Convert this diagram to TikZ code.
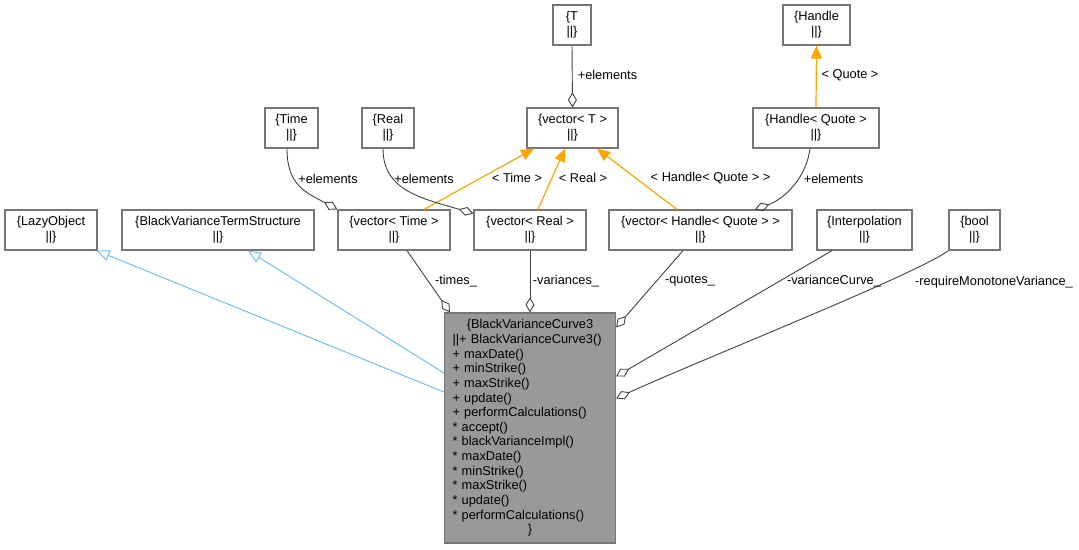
\documentclass[tikz,border=0pt]{standalone}
\usepackage{fontspec}
\setmainfont{Liberation Sans}
\usetikzlibrary{arrows.meta}

\definecolor{boxgray}{HTML}{767676}
\definecolor{agggray}{HTML}{404040}
\definecolor{tplorange}{HTML}{FFA500}
\definecolor{inhblue}{HTML}{63B8FF}
\definecolor{mainfill}{HTML}{999999}

\begin{document}
\begin{tikzpicture}[x=1pt, y=-1pt,
    cls/.style={draw=boxgray, fill=white, line width=1.2pt, minimum height=40pt, inner sep=0pt,
        align=center, font=\fontsize{12.8}{14.65}\selectfont},
    lbl/.style={font=\fontsize{12.8}{14.65}\selectfont, inner sep=0pt},
    agg/.style={draw=agggray, line width=0.9pt, -{Diamond[open, length=15pt, width=9pt]}},
    tpl/.style={draw=tplorange, line width=1.2pt, -{Triangle[length=13pt, width=11pt]}},
    inh/.style={draw=inhblue, line width=0.9pt, -{Triangle[open, length=13pt, width=11pt]}}]
    \useasboundingbox (0,0) rectangle (1079,549);

    % Classes
    \node[cls, minimum width=38pt] (t) at (572,25) {\{T\\||\}};
    \node[cls, minimum width=67pt] (handle) at (816.5,25) {\{Handle\\||\}};
    \node[cls, minimum width=53pt] (time) at (291.5,128) {\{Time\\||\}};
    \node[cls, minimum width=52pt] (real) at (388,128) {\{Real\\||\}};
    \node[cls, minimum width=91pt] (vt) at (572.5,128) {\{vector< T >\\||\}};
    \node[cls, minimum width=126pt] (hq) at (816,128) {\{Handle< Quote >\\||\}};
    \node[cls, minimum width=92pt] (lazy) at (51,230) {\{LazyObject\\||\}};
    \node[cls, minimum width=192pt] (bvts) at (218,230) {\{BlackVarianceTermStructure\\||\}};
    \node[cls, minimum width=112pt] (vtime) at (394,230) {\{vector< Time >\\||\}};
    \node[cls, minimum width=112pt] (vreal) at (530,230) {\{vector< Real >\\||\}};
    \node[cls, minimum width=183pt] (vhq) at (700.5,230) {\{vector< Handle< Quote > >\\||\}};
    \node[cls, minimum width=95pt] (interp) at (864.5,230) {\{Interpolation\\||\}};
    \node[cls, minimum width=51pt] (bool) at (974.5,230) {\{bool\\||\}};

    \node[cls, fill=mainfill, minimum width=171pt, minimum height=230pt, text width=155pt, align=left]
        (main) at (530,428) {\makebox[\linewidth]{\{BlackVarianceCurve3}\\
        ||+ BlackVarianceCurve3()\\
        + maxDate()\\
        + minStrike()\\
        + maxStrike()\\
        + update()\\
        + performCalculations()\\
        {}* accept()\\
        {}* blackVarianceImpl()\\
        {}* maxDate()\\
        {}* minStrike()\\
        {}* maxStrike()\\
        {}* update()\\
        {}* performCalculations()\\
        \makebox[\linewidth]{\}}};

    % Inheritance
    \draw[inh] ([yshift=36pt]main.west) -- ([xshift=-1pt]lazy.south east);
    \draw[inh] ([yshift=55pt]main.west) -- ([xshift=30pt]bvts.south);

    % Template instances
    \draw[tpl] ([xshift=30pt]vtime.north) -- ([xshift=-38.5pt]vt.south);
    \draw[tpl] ([xshift=8pt]vreal.north) -- ([xshift=-7.5pt]vt.south);
    \draw[tpl] ([xshift=-23.5pt]vhq.north) -- ([xshift=24.5pt]vt.south);
    \draw[tpl] (hq.north) -- (handle.south);

    % Members
    \draw[agg] (t.south) -- (vt.north);
    \draw[agg] ([xshift=-4.5pt]time.south) .. controls (287,185) and (305,192) .. (vtime.north west);
    \draw[agg] ([xshift=-5pt]real.south) .. controls (383,190) and (420,198) .. ([yshift=-4pt]vreal.north west);
    \draw[agg] ([xshift=-6pt]hq.south) .. controls (806,180) and (782,200) .. ([xshift=54.5pt]vhq.north);
    \draw[agg] ([xshift=13pt]vtime.south) -- ([xshift=-80pt]main.north);
    \draw[agg] (vreal.south) -- (main.north);
    \draw[agg] ([xshift=-17.5pt]vhq.south) -- ([yshift=-15pt]main.north east);
    \draw[agg] ([xshift=-32.5pt]interp.south) -- ([yshift=-64pt]main.north east);
    \draw[agg] (bool.south west) .. controls (915,275) and (700,360) .. ([yshift=-86pt]main.north east);

    % Labels
    \node[lbl] (lt) at (607.5,75) {+elements};
    \node[lbl] (lq) at (850,75) {< Quote >};
    \node[lbl] (ltime) at (328,179) {+elements};
    \node[lbl] (lreal) at (424,179) {+elements};
    \node[lbl] (ltt) at (517,178) {< Time >};
    \node[lbl] (ltr) at (583,178) {< Real >};
    \node[lbl] (lthq) at (710.5,178) {< Handle< Quote > >};
    \node[lbl] (lhq) at (833.5,179) {+elements};
    \node[lbl] (ltimes) at (456,281) {-times\_};
    \node[lbl] (lvar) at (566,281) {-variances\_};
    \node[lbl] (lquotes) at (690,281) {-quotes\_};
    \node[lbl] (lcurve) at (834,281) {-varianceCurve\_};
    \node[lbl] (lmono) at (994,282) {-requireMonotoneVariance\_};
\end{tikzpicture}
\end{document}
